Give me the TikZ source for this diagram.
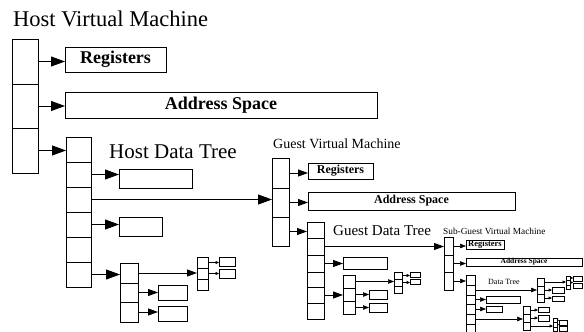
\documentclass[tikz,border=0pt]{standalone}
\usepackage{fontspec}
\setmainfont{Liberation Serif}
\usetikzlibrary{arrows.meta}
\tikzset{
  x=1pt, y=-1pt,
  bx/.style={draw=black, line width=0.9pt, inner sep=0pt, outer sep=0pt, fill=white},
  bxs/.style={bx, line width=0.6pt},
  ttl/.style={anchor=base west, inner sep=0pt},
  arA/.style={-{Triangle[length=14pt,width=10pt]}, line width=0.9pt},
  arB/.style={-{Triangle[length=10pt,width=7pt]}, line width=0.9pt},
  arC/.style={-{Triangle[length=6pt,width=4.5pt]}, line width=0.6pt},
  arD/.style={-{Triangle[length=3.5pt,width=3pt]}, line width=0.5pt},
  arE/.style={-{Triangle[length=2pt,width=2pt]}, line width=0.4pt},
}
\newcommand\bx[7][]{\node[bx,minimum width={(#5-#3)*1pt},minimum height={(#6-#4)*1pt},#1] (#2) at ({(#3+#5)/2},{(#4+#6)/2}) {#7};}
\newcommand\arr[3]{\draw[#1] (#2.east) -- (#2.east -| #3.west);}
\begin{document}
\begin{tikzpicture}
\useasboundingbox (0,0) rectangle (584,332);
\clip (0,0) rectangle (584,332);
% ---------------- Host ----------------
\node[ttl, font=\fontsize{22.5}{24}\selectfont] (htitle) at (13,26) {Host Virtual Machine};
\bx{hm1}{12}{39}{38}{84}{}
\bx{hm2}{12}{84}{38}{128}{}
\bx{hm3}{12}{128}{38}{173}{}
\bx[font=\fontsize{18}{20}\selectfont\bfseries]{hreg}{65}{47}{166}{72}{Registers}
\bx[font=\fontsize{18}{20}\selectfont\bfseries]{hadr}{65}{92}{377}{118}{Address Space}
\bx{hd1}{66}{137}{91}{162}{}
\bx{hd2}{66}{162}{91}{187}{}
\bx{hd3}{66}{187}{91}{212}{}
\bx{hd4}{66}{212}{91}{237}{}
\bx{hd5}{66}{237}{91}{262}{}
\bx{hd6}{66}{262}{91}{287}{}
\node[ttl, font=\fontsize{21}{23}\selectfont] (hdt) at (109,158) {Host Data Tree};
\bx{hb1}{119}{169}{192}{188}{}
\bx{hb2}{119}{217}{162}{236}{}
\bx{hs1}{120}{263}{138}{283}{}
\bx{hs2}{120}{283}{138}{302}{}
\bx{hs3}{120}{302}{138}{322}{}
\bx{ht1}{197}{257}{208}{268}{}
\bx{ht2}{197}{268}{208}{279}{}
\bx{ht3}{197}{279}{208}{290}{}
\bx{hx1}{219}{257}{235}{266}{}
\bx{hx2}{219}{269}{235}{278}{}
\bx{hy1}{158}{285}{187}{300}{}
\bx{hy2}{158}{306}{187}{321}{}
\arr{arA}{hm1}{hreg}
\arr{arA}{hm2}{hadr}
\arr{arA}{hm3}{hd1}
\arr{arA}{hd2}{hb1}
\arr{arA}{hd4}{hb2}
\arr{arA}{hd6}{hs1}
\arr{arB}{hs1}{ht2}
\arr{arB}{hs2}{hy1}
\arr{arB}{hs3}{hy2}
\arr{arD}{ht1}{hx1}
\arr{arD}{ht2}{hx2}
% ---------------- Guest ----------------
\node[ttl, font=\fontsize{14}{16}\selectfont] (gtitle) at (273,148) {Guest Virtual Machine};
\bx{gm1}{272}{158}{289}{188}{}
\bx{gm2}{272}{188}{289}{217}{}
\bx{gm3}{272}{217}{289}{246}{}
\arr{arA}{hd3}{gm2}
\bx[font=\fontsize{12}{14}\selectfont\bfseries]{greg}{308}{163}{373}{179}{Registers}
\bx[font=\fontsize{12}{14}\selectfont\bfseries]{gadr}{308}{192}{515}{210}{Address Space}
\bx{gd1}{307}{222}{324}{238}{}
\bx{gd2}{307}{238}{324}{255}{}
\bx{gd3}{307}{255}{324}{272}{}
\bx{gd4}{307}{272}{324}{287}{}
\bx{gd5}{307}{287}{324}{303}{}
\bx{gd6}{307}{303}{324}{319}{}
\node[ttl, font=\fontsize{15}{17}\selectfont] (gdt) at (333,235) {Guest Data Tree};
\bx{gb1}{343}{257}{387}{269}{}
\bx{gs1}{343}{275}{355}{288}{}
\bx{gs2}{343}{288}{355}{301}{}
\bx{gs3}{343}{301}{355}{314}{}
\bx[bxs]{gt1}{394}{272}{402}{279}{}
\bx[bxs]{gt2}{394}{279}{402}{286}{}
\bx[bxs]{gt3}{394}{286}{402}{293}{}
\bx[bxs]{gx1}{410}{272}{420}{277}{}
\bx[bxs]{gx2}{410}{279}{420}{284}{}
\bx{gy1}{369}{290}{387}{299}{}
\bx{gy2}{369}{303}{387}{312}{}
\arr{arB}{gm1}{greg}
\arr{arB}{gm2}{gadr}
\arr{arB}{gm3}{gd1}
\arr{arB}{gd3}{gb1}
\arr{arB}{gd5}{gs2}
\arr{arC}{gs1}{gt2}
\arr{arC}{gs2}{gy1}
\arr{arC}{gs3}{gy2}
\arr{arD}{gt1}{gx1}
\arr{arD}{gt2}{gx2}
% ---------------- Sub-Guest ----------------
\node[ttl, font=\fontsize{9.3}{10}\selectfont] (stitle) at (443,234) {Sub-Guest Virtual Machine};
\bx[bxs]{sm1}{444}{237}{453}{255}{}
\bx[bxs]{sm2}{444}{255}{453}{272}{}
\bx[bxs]{sm3}{444}{272}{453}{290}{}
\arr{arB}{gd2}{sm1}
\bx[bxs,font=\fontsize{8.5}{9}\selectfont\bfseries]{sreg}{466}{240}{504}{249}{Registers}
\bx[bxs,font=\fontsize{7.5}{8}\selectfont\bfseries]{sadr}{466}{258}{582}{266}{Address Space}
\bx[bxs]{sd1}{466}{275}{475}{285}{}
\bx[bxs]{sd2}{466}{285}{475}{295}{}
\bx[bxs]{sd3}{466}{295}{475}{304}{}
\bx[bxs]{sd4}{466}{304}{475}{314}{}
\bx[bxs]{sd5}{466}{314}{475}{324}{}
\bx[bxs]{sd6}{466}{324}{475}{334}{}
\node[ttl, font=\fontsize{8}{9}\selectfont] (sdt) at (488,284) {Data Tree};
\bx[bxs]{sx1}{537}{278}{544}{286}{}
\bx[bxs]{sx2}{537}{286}{544}{294}{}
\bx[bxs]{sx3}{537}{294}{544}{302}{}
\bx[bxs]{sxt1}{566}{276}{570}{280}{}
\bx[bxs]{sxt2}{566}{280}{570}{285}{}
\bx[bxs]{sxt3}{566}{285}{570}{289}{}
\bx[bxs]{sxb1}{573}{276}{582}{281}{}
\bx[bxs]{sxb2}{573}{283}{582}{288}{}
\bx[bxs]{sxy1}{552}{287}{564}{293}{}
\bx[bxs]{sxy2}{552}{296}{564}{301}{}
\bx[bxs]{sb1}{486}{296}{520}{303}{}
\bx[bxs]{sb2}{486}{306}{502}{312}{}
\bx[bxs]{sy1}{523}{306}{530}{314}{}
\bx[bxs]{sy2}{523}{314}{530}{322}{}
\bx[bxs]{sy3}{523}{322}{530}{330}{}
\bx[bxs]{syb1}{538}{307}{549}{312}{}
\bx[bxs]{syb2}{538}{315}{549}{321}{}
\bx[bxs]{syt1}{553}{318}{557}{322.5}{}
\bx[bxs]{syt2}{553}{322.5}{557}{327}{}
\bx[bxs]{syt3}{553}{327}{557}{331.5}{}
\bx[bxs]{sytb1}{559}{320}{567}{325}{}
\bx[bxs]{sytb2}{559}{326}{567}{331}{}
\arr{arC}{sm1}{sreg}
\arr{arC}{sm2}{sadr}
\arr{arC}{sm3}{sd1}
\arr{arC}{sd2}{sx2}
\arr{arC}{sd3}{sb1}
\arr{arC}{sd4}{sb2}
\arr{arC}{sd5}{sy2}
\arr{arD}{sx1}{sxt2}
\arr{arD}{sx2}{sxy1}
\arr{arD}{sx3}{sxy2}
\arr{arD}{sy1}{syb1}
\arr{arD}{sy2}{syb2}
\arr{arD}{sy3}{syt2}
\arr{arE}{sxt1}{sxb1}
\arr{arE}{sxt2}{sxb2}
\arr{arE}{syt1}{sytb1}
\arr{arE}{syt2}{sytb2}
\end{tikzpicture}
\end{document}
